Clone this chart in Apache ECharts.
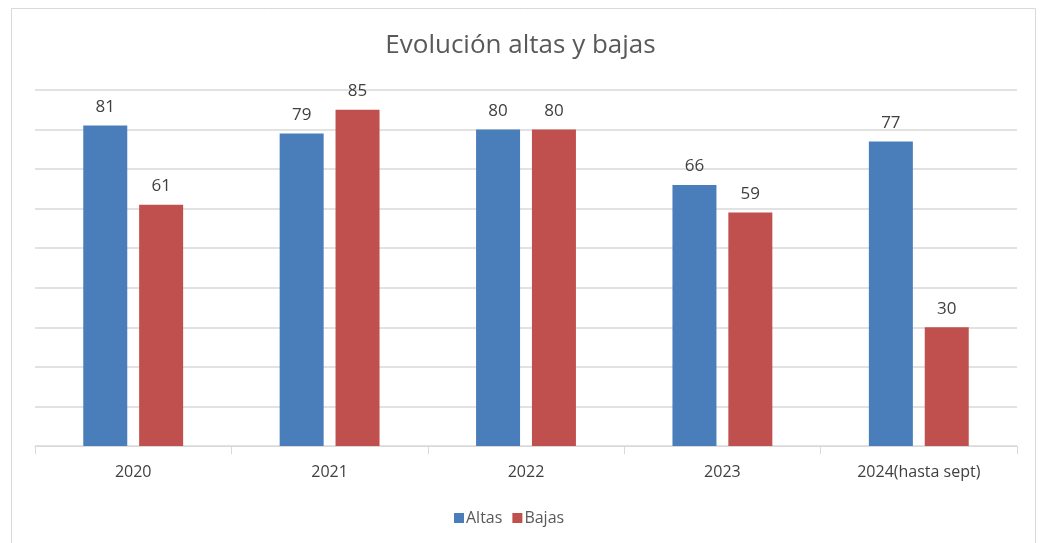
<!DOCTYPE html>
<html>
<head>
<meta charset="utf-8">
<script src="https://cdn.jsdelivr.net/npm/echarts@6/dist/echarts.min.js"></script>
<style>
    html, body { margin: 0; padding: 0; background: #fff; }
    #chart { width: 1041px; height: 543px; }
</style>
</head>
<body>
<div id="chart"></div>
<script>
// datos del gráfico
var years = ['2020', '2021', '2022', '2023', '2024(hasta sept)'];
var altas = [81, 79, 80, 66, 77];
var bajas = [61, 85, 80, 59, 30];

var fontName = '"Open Sans", sans-serif';

var myChart = echarts.init(document.getElementById('chart'));

option = {
    textStyle: {
        fontFamily: fontName
    },
    title: {
        text: 'Evolución altas y bajas',
        left: 'center',
        top: 28,
        textStyle: {
            color: '#595959',
            fontSize: 26,
            fontWeight: 'normal',
            fontFamily: fontName
        }
    },
    graphic: [
        {
            type: 'rect',
            shape: { x: 11.5, y: 8.5, width: 1024, height: 560 },
            style: { fill: 'none', stroke: '#d9d9d9', lineWidth: 1 },
            silent: true
        }
    ],
    legend: {
        data: ['Altas', 'Bajas'],
        bottom: 12,
        left: 449,
        itemWidth: 10,
        itemHeight: 10,
        itemGap: 10,
        icon: 'rect',
        textStyle: {
            color: '#595959',
            fontSize: 16,
            padding: [0, 0, 0, -3]
        }
    },
    grid: {
        left: 35,
        right: 24,
        top: 90,
        bottom: 97
    },
    xAxis: {
        type: 'category',
        data: years,
        axisLine: {
            lineStyle: { color: '#d9d9d9' }
        },
        axisTick: {
            show: true,
            length: 8,
            lineStyle: { color: '#d9d9d9' }
        },
        axisLabel: {
            color: '#404040',
            fontSize: 16,
            margin: 18
        }
    },
    yAxis: {
        type: 'value',
        min: 0,
        max: 90,
        interval: 10,
        axisLabel: { show: false },
        axisLine: { show: false },
        axisTick: { show: false },
        splitLine: {
            lineStyle: { color: '#d9d9d9', width: 1.5 }
        }
    },
    series: [
        {
            name: 'Altas',
            type: 'bar',
            data: altas,
            barWidth: 44,
            barGap: '27%',
            itemStyle: { color: '#4a7ebb' },
            label: {
                show: true,
                position: 'top',
                distance: 10,
                color: '#404040',
                fontSize: 17
            }
        },
        {
            name: 'Bajas',
            type: 'bar',
            data: bajas,
            barWidth: 44,
            barGap: '27%',
            itemStyle: { color: '#c0504d' },
            label: {
                show: true,
                position: 'top',
                distance: 10,
                color: '#404040',
                fontSize: 17
            }
        }
    ]
};

myChart.setOption(option);
</script>
</body>
</html>
